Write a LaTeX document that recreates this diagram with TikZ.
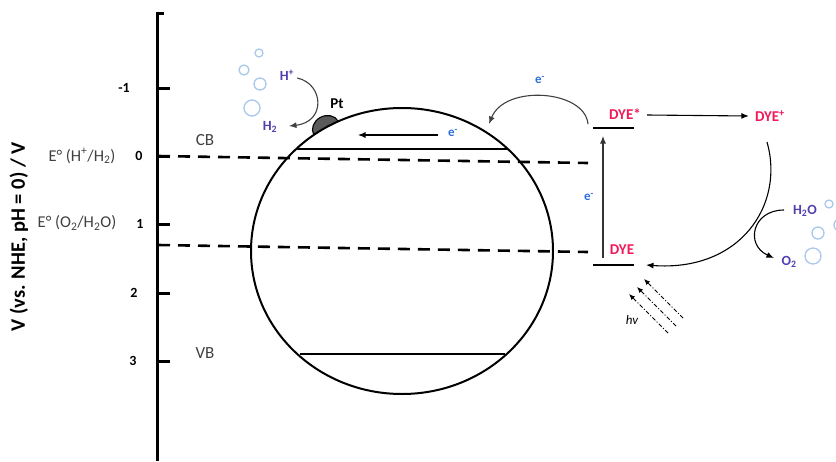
\documentclass[tikz,border=0pt]{standalone}
\usepackage{fontspec}
\setmainfont{Carlito}
\usetikzlibrary{arrows.meta,shapes.geometric}
\definecolor{dyered}{HTML}{F0195A}
\definecolor{chemc}{HTML}{4F3FAF}
\definecolor{eblue}{HTML}{2F6FD8}
\definecolor{bubc}{HTML}{A8C8EC}
\definecolor{txtgray}{HTML}{404040}
\definecolor{ptgray}{HTML}{5A5A5A}
\tikzset{
  fs/.style={font=\fontsize{#1}{#1}\selectfont},
  band/.style={fs=17, text=txtgray, inner sep=0pt},
  potl/.style={fs=16.5, text=txtgray, inner sep=0pt},
  ticklbl/.style={font=\bfseries\fontsize{14}{14}\selectfont, inner sep=0pt},
  dyelbl/.style={font=\bfseries\fontsize{15}{15}\selectfont, text=dyered, inner sep=0pt},
  chemlbl/.style={font=\bfseries\fontsize{14}{14}\selectfont, text=chemc, inner sep=0pt},
  elbl/.style={font=\bfseries\fontsize{13}{13}\selectfont, text=eblue, inner sep=0pt},
  arr/.style={-{Latex[length=7.5pt,width=6pt]}, line width=1.1pt},
  carr/.style={-{Latex[length=7.5pt,width=6pt]}, line width=1.1pt, draw=black!75},
  axisline/.style={line width=3pt},
  lvl/.style={line width=2.8pt},
  dashlvl/.style={line width=2.6pt, dash pattern=on 12pt off 8pt},
  bub/.style={draw=bubc, line width=1.3pt},
  light/.style={-{Latex[length=6pt,width=5pt]}, line width=0.9pt, dash pattern=on 4pt off 2pt on 1pt off 2pt},
}
\begin{document}
\begin{tikzpicture}[x=1pt,y=-1pt]
\useasboundingbox (0,0) rectangle (836,461);

% axis
\draw[axisline] (164,13) -- (157,13) -- (157,461);
\foreach \yy/\nm in {88/m1,156/z0,224/p1,293/p2,361/p3}
  \draw[axisline] (157,\yy) -- (170,\yy);
\node[ticklbl] (tm1) at (124,88) {-1};
\node[ticklbl] (t0) at (139,156) {0};
\node[ticklbl] (t1) at (140,224) {1};
\node[ticklbl] (t2) at (134,293) {2};
\node[ticklbl] (t3) at (133,361) {3};
\node[font=\bfseries\fontsize{20.5}{20.5}\selectfont, rotate=90, inner sep=0pt] (ylab) at (19,237) {V (vs. NHE, pH = 0) / V};
\node[potl] (eh) at (82,156) {E° (H\textsuperscript{+}/H\textsubscript{2})};
\node[potl] (eo) at (77,223) {E° (O\textsubscript{2}/H\textsubscript{2}O)};
\node[band] (cb) at (205,140) {CB};
\node[band] (vb) at (205,353) {VB};

% Pt particle
\draw[fill=ptgray, line width=1.1pt, rotate around={29:(326,128)}] (326,128) ellipse [x radius=14pt, y radius=12pt];
\node[font=\bfseries\fontsize{15}{15}\selectfont, inner sep=0pt] (pt) at (337,104) {Pt};

% semiconductor particle
\node[draw, ellipse, fill=white, line width=2pt, minimum width=302pt, minimum height=286pt, inner sep=0pt] (sc) at (402,251) {};
\coordinate (cbL) at (297,149); \coordinate (cbR) at (508,149);
\coordinate (vbL) at (300,354); \coordinate (vbR) at (505,354);
\draw[lvl] (cbL) -- (cbR);
\draw[lvl] (vbL) -- (vbR);

% dashed potential lines
\coordinate (d1a) at (158,156); \coordinate (d1b) at (588,163);
\coordinate (d2a) at (158,245); \coordinate (d2b) at (588,252);
\draw[dashlvl] (d1a) -- (d1b);
\draw[dashlvl] (d2a) -- (d2b);

% electron in CB
\coordinate (ia) at (438,135); \coordinate (ib) at (358,135);
\draw[arr] (ia) -- (ib);
\node[elbl] (e1) at (453,133) {e\textsuperscript{-}};

% H+ / H2
\node[chemlbl] (hp) at (287,75) {H\textsuperscript{+}};
\node[chemlbl] (h2) at (270,127) {H\textsubscript{2}};
\draw[carr] (hp.east) ++(3,3) .. controls (324,84) and (326,122) .. (289,126);
\draw[bub] (259,53) circle [radius=4pt];
\draw[bub] (244,70) circle [radius=5pt];
\draw[bub] (260,84) circle [radius=6pt];
\draw[bub] (252,108) circle [radius=8pt];

% dye levels
\coordinate (dsL) at (593,128); \coordinate (dsR) at (634,128);
\coordinate (dgL) at (593,265); \coordinate (dgR) at (634,265);
\draw[lvl] (dsL) -- (dsR);
\draw[lvl] (dgL) -- (dgR);
\node[dyelbl] (dyestar) at (625,114) {DYE*};
\node[dyelbl] (dye) at (622,250) {DYE};
\node[dyelbl] (dyeplus) at (770,116) {DYE\textsuperscript{+}};
\coordinate (vb0) at (603,258); \coordinate (vt0) at (603,136);
\draw[arr, draw=black!80] (vb0) -- (vt0);
\node[elbl] (e2) at (589,197) {e\textsuperscript{-}};

% injection arrow
\coordinate (inj0) at (588,124);
\coordinate (inj1) at (489,124);
\draw[carr] (inj0) .. controls (585,90) and (505,84) .. (inj1);
\node[elbl] (e3) at (540,80) {e\textsuperscript{-}};

% DYE* -> DYE+
\draw[arr] (dyestar.east) ++(6,1) -- ([xshift=-6pt]dyeplus.west);

% regeneration
\coordinate (rg0) at (767,142);
\coordinate (rg1) at (646,265);
\draw[arr] (rg0) .. controls (785,205) and (740,272) .. (rg1);

% water oxidation
\node[chemlbl] (h2o) at (805,211) {H\textsubscript{2}O};
\node[chemlbl] (o2) at (789,262) {O\textsubscript{2}};
\coordinate (wo0) at (784,210);
\coordinate (wo1) at (774,258);
\draw[arr] (wo0) .. controls (752,210) and (745,245) .. (wo1);
\draw[bub] (829,204) circle [radius=4pt];
\draw[bub] (840,225) circle [radius=6pt];
\draw[bub] (818,233) circle [radius=6pt];
\draw[bub] (813,256) circle [radius=8pt];

% light
\coordinate (l1a) at (668,333); \coordinate (l1b) at (629,294);
\coordinate (l2a) at (676,326); \coordinate (l2b) at (637,287);
\coordinate (l3a) at (683,318); \coordinate (l3b) at (644,279);
\draw[light] (l1a) -- (l1b);
\draw[light] (l2a) -- (l2b);
\draw[light] (l3a) -- (l3b);
\node[font=\itshape\fontsize{13}{13}\selectfont, inner sep=0pt] (hv) at (632,320) {hv};
\end{tikzpicture}
\end{document}
